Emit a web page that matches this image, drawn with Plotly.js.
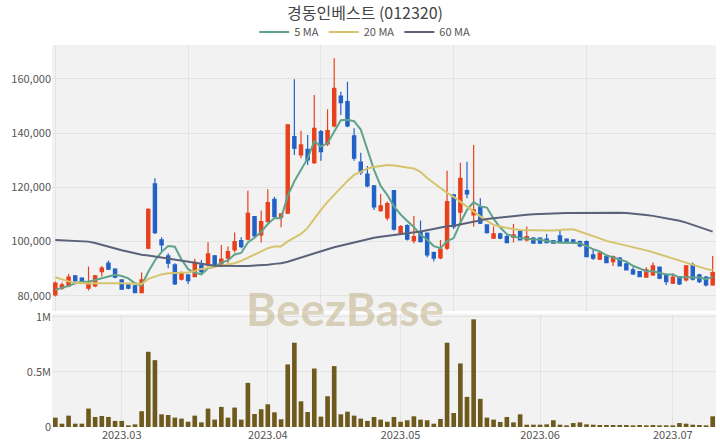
<!DOCTYPE html>
<html>
<head>
<meta charset="utf-8">
<script src="https://cdn.plot.ly/plotly-3.0.1.min.js"></script>
<style>html,body{margin:0;padding:0;background:#fff;}#chart{width:720px;height:448px;}</style>
</head>
<body>
<div id="chart"></div>
<script>
const dates = [
'2023-02-15','2023-02-16','2023-02-17','2023-02-20','2023-02-21','2023-02-22','2023-02-23','2023-02-24','2023-02-27','2023-02-28',
'2023-03-02','2023-03-03','2023-03-06','2023-03-07','2023-03-08','2023-03-09','2023-03-10','2023-03-13','2023-03-14','2023-03-15',
'2023-03-16','2023-03-17','2023-03-20','2023-03-21','2023-03-22','2023-03-23','2023-03-24','2023-03-27','2023-03-28','2023-03-29',
'2023-03-30','2023-03-31','2023-04-03','2023-04-04','2023-04-05','2023-04-06','2023-04-07','2023-04-10','2023-04-11','2023-04-12',
'2023-04-13','2023-04-14','2023-04-17','2023-04-18','2023-04-19','2023-04-20','2023-04-21','2023-04-24','2023-04-25','2023-04-26',
'2023-04-27','2023-04-28','2023-05-02','2023-05-03','2023-05-04','2023-05-08','2023-05-09','2023-05-10','2023-05-11','2023-05-12',
'2023-05-15','2023-05-16','2023-05-17','2023-05-18','2023-05-19','2023-05-22','2023-05-23','2023-05-24','2023-05-25','2023-05-26',
'2023-05-30','2023-05-31','2023-06-01','2023-06-02','2023-06-05','2023-06-07','2023-06-08','2023-06-09','2023-06-12','2023-06-13',
'2023-06-14','2023-06-15','2023-06-16','2023-06-19','2023-06-20','2023-06-21','2023-06-22','2023-06-23','2023-06-26','2023-06-27',
'2023-06-28','2023-06-29','2023-06-30','2023-07-03','2023-07-04','2023-07-05','2023-07-06','2023-07-07','2023-07-10','2023-07-11'];

const openP = [80370,82840,83690,87370,86520,82840,83690,88960,92050,89840,
85900,84050,83690,81220,97580,121280,100640,94740,91430,86150,
87740,87110,91430,91430,94740,91060,93900,96950,100380,100900,
109230,102480,107390,115640,109000,110480,138720,131970,134070,129140,
140560,136030,142660,153720,151620,138970,129300,124900,120550,111440,
108750,118810,103110,105910,100380,103330,103110,95960,94000,97580,
117230,110900,118810,109860,112700,106170,101270,102850,101860,101640,
103700,100640,101270,101270,100900,100380,102110,100900,100640,100020,
100020,95110,93530,94490,92640,93900,91800,89580,88960,86890,
87740,90580,87740,84680,87110,85900,91430,87740,86890,84050];

const highP = [85270,84900,88100,87740,86890,90800,87740,91060,93010,90200,
86150,84420,84050,88590,112330,123380,101640,95740,92050,88960,
88000,93700,93270,99800,95110,98800,98170,103330,101640,118810,
109490,111440,119330,116600,110480,143400,159880,140930,139350,154090,
141190,148810,167610,155300,158990,141800,132820,127920,120910,117600,
114760,119070,106170,106420,109490,107760,103330,96330,100640,126190,
117600,129140,129500,135660,116010,106420,105540,103300,102500,106540,
104330,105540,101750,101640,102850,100640,104070,101270,100900,100380,
100380,97210,96330,95110,94850,94370,92160,90580,89210,90580,
92270,90800,88370,88370,87370,91430,92270,88110,87370,94740];

const lowP = [79750,82200,83200,84900,84420,81950,83200,87110,89580,86520,
82210,82470,81000,81000,97210,102850,96330,90200,84050,85640,
84420,86900,88110,90800,90800,90560,92050,95960,97580,100380,
101640,99650,107020,108640,105320,110220,131970,130750,128290,128660,
129870,135290,142180,146720,142180,129870,124600,120070,111700,111070,
107760,104070,102850,100380,99430,99650,94260,92640,93530,96950,
104700,106000,116010,105540,106540,103000,101000,100900,99430,99650,
100380,100020,99300,99200,99430,99200,99650,99430,99200,97950,
94260,93270,93270,92050,91060,90800,89330,87740,86890,86890,
87370,86150,84050,84420,84050,85270,85640,84790,83430,83690];

const closeP = [84680,84050,86890,85640,84900,84680,87370,90200,89840,86890,
82470,82840,81220,85900,111950,103330,98800,92050,84420,88370,
85640,92400,88960,95480,91060,93530,96330,100020,98170,110480,
102110,107390,114390,109230,110220,143030,134440,135660,130130,141800,
133190,140930,156550,151250,142660,130750,125500,120550,112800,113170,
114020,104590,105540,100900,101860,100020,95110,93900,97210,114760,
105540,123380,117600,111700,106800,103330,102850,101270,99650,102480,
100640,101860,99430,99430,99650,99430,100020,99650,99430,98430,
94490,93900,95740,92270,94490,91060,89580,88110,87110,89580,
91060,86520,85270,86890,84420,91060,86150,85270,84050,88590];

const ma5 = [82200,82840,83700,84600,85230,85230,85900,86560,87400,87800,
87350,86450,84650,83860,88880,93050,96240,98410,98110,93390,
89860,88580,87960,90170,90710,92290,93070,95280,95820,99710,
101420,103630,106510,108720,108670,116850,122260,126520,130700,137010,
135040,136340,140520,144740,144920,144430,141340,134140,126450,120550,
117210,113030,110020,107640,105380,102580,100690,98360,97620,100200,
101300,106960,111700,114600,113000,112560,108460,105190,102780,101920,
101380,101180,100810,100770,100200,99960,99590,99640,99640,99390,
98400,97180,96400,94970,94180,93490,92630,91100,90070,89090,
89090,88480,87910,87860,86830,86830,86760,86760,86190,87020];

const ma20 = [86890,86080,85340,84870,84610,84610,84680,84720,84790,84720,
84640,84570,84500,84420,86270,87190,87920,88370,88480,88550,
88660,89220,89950,90320,90800,91240,91680,92050,92900,94120,
95110,96400,97580,98250,98250,100090,101380,102850,105060,108570,
111700,114650,117410,119810,122390,124600,125710,127000,127550,127920,
128290,128100,127730,127370,127000,125710,123490,121650,119810,117970,
116490,114650,112810,111070,109300,107650,106170,105620,105060,104590,
104330,104220,104140,104070,104070,104140,104400,104510,104590,103770,
103040,102120,101190,100270,99720,99170,98610,98060,97510,96770,
96110,95300,94560,93820,93010,92160,91430,90690,89950,89400];

const ma60 = [100640,100550,100450,100330,100200,100010,99500,98800,98050,97400,
96800,96250,95700,95200,94900,94500,94100,93700,93250,92800,
92450,92100,91750,91450,91150,91050,91030,91020,91030,91050,
91150,91300,91500,91800,92050,92600,93400,94250,95000,95800,
96600,97200,97900,98500,99000,99500,100100,100800,101400,101800,
102100,102400,102750,103050,103400,103750,104200,104750,105300,105650,
105900,106400,107100,107500,108100,108350,108600,108900,109200,109450,
109700,109900,110100,110250,110350,110450,110500,110550,110600,110600,
110650,110700,110700,110700,110700,110700,110600,110400,110100,109850,
109500,109100,108700,108250,107700,107000,106150,105300,104500,103700];

const volume = [85000,30000,103000,30000,30000,167000,91000,100000,91000,55000,
55000,15000,24000,143000,682000,606000,115000,109000,85000,76000,
48000,103000,42000,167000,67000,182000,85000,176000,67000,400000,
118000,161000,206000,133000,70000,567000,764000,233000,136000,530000,
94000,279000,552000,115000,139000,103000,76000,55000,91000,67000,
48000,91000,48000,61000,97000,67000,61000,30000,73000,764000,
127000,576000,273000,976000,255000,85000,67000,45000,91000,42000,
115000,21000,21000,21000,24000,61000,21000,15000,36000,42000,
24000,21000,18000,18000,18000,18000,18000,15000,18000,15000,
18000,15000,15000,15000,36000,30000,21000,18000,15000,97000];

const monthTickVals = ['2023-03-02','2023-04-03','2023-05-02','2023-06-02','2023-07-03'];
const monthTickText = ['2023.03','2023.04','2023.05','2023.06','2023.07'];
const priceTicks = [80000,100000,120000,140000,160000];
const volTickVals = [0,500000,1000000];
const volTickText = ['0','0.5M','1M'];

const UP = '#e8401c', DOWN = '#2261c6';
const gridC = '#e3e3e3';
const baseFont = 'Noto Sans CJK KR, Noto Sans, sans-serif';

const traces = [
  {type:'candlestick', x:dates, open:openP, high:highP, low:lowP, close:closeP,
   xaxis:'x', yaxis:'y', showlegend:false, hoverinfo:'skip',
   increasing:{line:{color:UP,width:1.2}, fillcolor:UP},
   decreasing:{line:{color:DOWN,width:1.2}, fillcolor:DOWN}},
  {type:'scatter', mode:'lines', name:'5 MA', x:dates, y:ma5, xaxis:'x', yaxis:'y',
   line:{color:'#5fa38b', width:2}},
  {type:'scatter', mode:'lines', name:'20 MA', x:dates, y:ma20, xaxis:'x', yaxis:'y',
   line:{color:'#d6c46c', width:2}},
  {type:'scatter', mode:'lines', name:'60 MA', x:dates, y:ma60, xaxis:'x', yaxis:'y',
   line:{color:'#5b6279', width:2}},
  {type:'bar', x:dates, y:volume, xaxis:'x2', yaxis:'y2', showlegend:false,
   marker:{color:'#6e5a1c'}}
];

const layout = {
  width:720, height:448,
  margin:{l:52, r:4, t:45, b:21},
  paper_bgcolor:'#ffffff', plot_bgcolor:'#f2f2f2',
  font:{family:baseFont, size:11, color:'#555'},
  title:{text:'경동인베스트 (012320)', x:0.507, xanchor:'center', y:0.969, yanchor:'middle',
         font:{family:baseFont, size:16, color:'#444'}},
  showlegend:true,
  legend:{orientation:'h', x:0.471, xanchor:'center', y:1.034, yanchor:'middle',
          font:{family:baseFont, size:11, color:'#555'}, itemwidth:30, bgcolor:'rgba(0,0,0,0)'},
  bargap:0.3,
  xaxis:{type:'category', domain:[0,1], anchor:'y', range:[-0.5,99.5],
         tickmode:'linear', tick0:0, dtick:20, showticklabels:false,
         showgrid:true, gridcolor:gridC, zeroline:false, ticks:'',
         rangeslider:{visible:false}, fixedrange:true},
  yaxis:{domain:[0.304,1], anchor:'x', range:[74470,172520],
         tickmode:'array', tickvals:priceTicks, tickformat:',d',
         showgrid:true, gridcolor:gridC, zeroline:false, ticks:''},
  xaxis2:{type:'category', domain:[0,1], anchor:'y2', range:[-0.5,99.5],
          tickmode:'array', tickvals:monthTickVals, ticktext:monthTickText,
          showgrid:true, gridcolor:gridC, zeroline:false, ticks:''},
  yaxis2:{domain:[0,0.296], anchor:'x2', range:[0,1025000],
          tickmode:'array', tickvals:volTickVals, ticktext:volTickText,
          showgrid:true, gridcolor:gridC, zeroline:false, ticks:''},
  annotations:[{text:'BeezBase', xref:'paper', yref:'paper', x:0.441, y:0.31,
                xanchor:'center', yanchor:'middle', showarrow:false,
                font:{family:'Lato, Roboto, sans-serif', size:46, weight:700, color:'rgba(190,175,130,0.55)'}}]
};

Plotly.newPlot('chart', traces, layout, {displayModeBar:false, staticPlot:true});
</script>
</body>
</html>
